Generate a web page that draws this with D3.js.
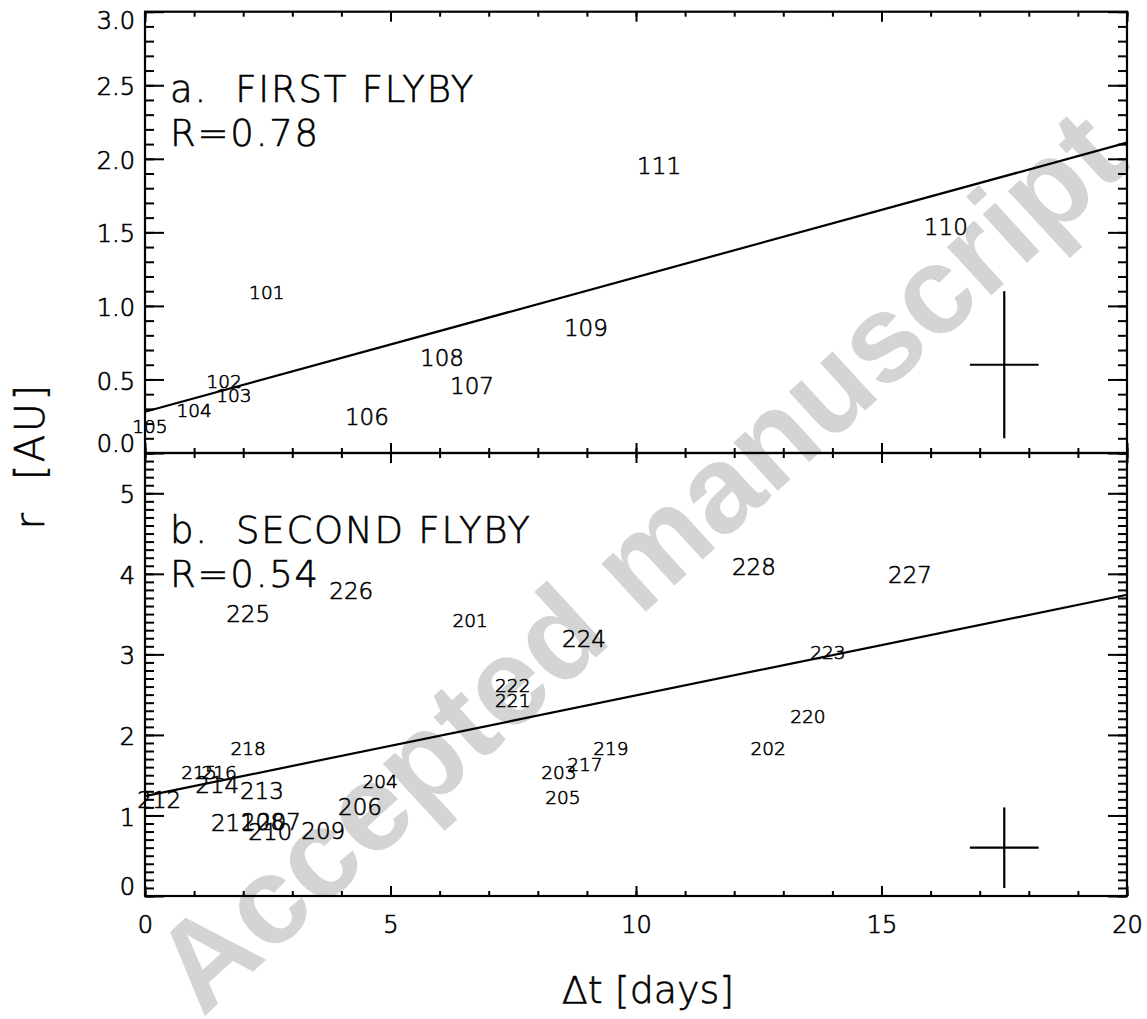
<!DOCTYPE html>
<html>
<head>
<meta charset="utf-8">
<script src="https://cdn.jsdelivr.net/npm/d3@7"></script>
<style>
  body { margin: 0; background: #fff; }
  svg { display: block; }
</style>
</head>
<body>
<svg id="chart" width="1147" height="1019"></svg>
<script>
// ---- First flyby: event number, delay (days), radial distance (AU)
const flyby1Ids = [101, 102, 103, 104, 105, 106, 107, 108, 109, 110, 111];
const flyby1Dt  = [2.48, 1.61, 1.81, 1.00, 0.10, 4.52, 6.66, 6.05, 8.98, 16.31, 10.47];
const flyby1R   = [1.09, 0.49, 0.39, 0.29, 0.18, 0.25, 0.455, 0.65, 0.85, 1.54, 1.95];

// ---- Second flyby
const flyby2Ids = [201, 202, 203, 204, 205, 206, 207, 208, 209, 210, 211, 212, 213, 214,
                   215, 216, 217, 218, 219, 220, 221, 222, 223, 224, 225, 226, 227, 228];
const flyby2Dt  = [6.62, 12.69, 8.43, 4.79, 8.51, 4.38, 2.73, 2.40, 3.63, 2.55, 1.79, 0.29, 2.38, 1.47,
                   1.10, 1.51, 8.96, 2.10, 9.49, 13.50, 7.49, 7.49, 13.91, 8.94, 2.10, 4.20, 15.58, 12.40];
const flyby2R   = [3.42, 1.83, 1.53, 1.42, 1.23, 1.11, 0.92, 0.92, 0.81, 0.80, 0.91, 1.19, 1.31, 1.38,
                   1.53, 1.53, 1.64, 1.83, 1.83, 2.23, 2.43, 2.62, 3.02, 3.20, 3.50, 3.79, 3.99, 4.09];

// ---- Linear fits (end points at Δt = 0 and 20 days) and correlation coefficients
const fit1Dt = [0, 20];
const fit1R  = [0.28, 2.11];
const fit2Dt = [0, 20];
const fit2R  = [1.24, 3.74];
const corr1 = "0.78";
const corr2 = "0.54";

// ---- Typical uncertainty cross: centre and half-widths
const errDt = 17.5, errR = 0.6, errHalfDt = 0.7, errHalfR = 0.5;

// ---- Axis ticks
const xMajorTicks = [0, 5, 10, 15, 20];
const xMinorTicks = d3.range(0, 21, 1);
const y1MajorTicks = [0, 0.5, 1.0, 1.5, 2.0, 2.5, 3.0];
const y1MinorTicks = d3.range(0, 31).map(d => d / 10);
const y2MajorTicks = [0, 1, 2, 3, 4, 5];
const y2MinorTicks = d3.range(0, 56).map(d => d / 10);

// Event numbers printed in the smaller type
const smallLabels = new Set([101, 102, 103, 104, 105,
  201, 202, 203, 204, 205, 215, 216, 217, 218, 219, 220, 221, 222, 223]);

// Thin, even-stroked lettering: extra-light face with a hairline outline
const FONT = "'DejaVu Sans', sans-serif";
const WEIGHT = 200;
function ink(sel, w) {
  sel.attr("font-family", FONT).attr("font-weight", WEIGHT)
    .attr("fill", "#000").attr("stroke", "#000").attr("stroke-width", w);
}

const svg = d3.select("#chart");

const xLeft = 145, xRight = 1127;
const x = d3.scaleLinear().domain([0, 20]).range([xLeft, xRight]);

const panels = [
  { top: 11.7, bottom: 453, domain: [0, 3], major: y1MajorTicks, minor: y1MinorTicks,
    fmt: d3.format(".1f"), ids: flyby1Ids, dt: flyby1Dt, r: flyby1R,
    fitDt: fit1Dt, fitR: fit1R, title: "a.  FIRST FLYBY", corr: corr1, xLabels: false },
  { top: 453, bottom: 896, domain: [0, 5.5], major: y2MajorTicks, minor: y2MinorTicks,
    fmt: d3.format("d"), ids: flyby2Ids, dt: flyby2Dt, r: flyby2R,
    fitDt: fit2Dt, fitR: fit2R, title: "b.  SECOND FLYBY", corr: corr2, xLabels: true }
];

// Watermark sits underneath everything else
svg.append("text")
  .attr("transform", "translate(638,560) rotate(-42.5)")
  .attr("text-anchor", "middle")
  .attr("dy", "0.35em")
  .attr("font-family", "'Liberation Sans', Arial, sans-serif")
  .attr("font-weight", "bold")
  .attr("font-size", 124)
  .attr("fill", "#d4d4d4")
  .text("Accepted manuscript");

function styleAxis(g) {
  g.select(".domain").remove();
  g.selectAll(".tick line").attr("stroke", "#000").attr("stroke-width", 2);
  g.selectAll(".tick text").call(ink, 0.7).attr("font-size", 24);
}

panels.forEach(p => {
  const y = d3.scaleLinear().domain(p.domain).range([p.bottom, p.top]);
  const g = svg.append("g");

  // Left axis: minor + labelled major ticks
  g.append("g").attr("transform", `translate(${xLeft},0)`)
    .call(d3.axisLeft(y).tickValues(p.minor).tickSize(-9).tickFormat(""))
    .call(styleAxis);
  const leftMajor = g.append("g").attr("transform", `translate(${xLeft},0)`)
    .call(d3.axisLeft(y).tickValues(p.major).tickSize(-19).tickPadding(10).tickFormat(p.fmt))
    .call(styleAxis);
  // labels at the ends of the range are nudged inside the frame
  leftMajor.selectAll(".tick text")
    .attr("dy", d => d === p.domain[0] ? "-0.05em" : d === p.domain[1] ? "0.7em" : "0.4em");

  // Right axis (ticks only)
  g.append("g").attr("transform", `translate(${xRight},0)`)
    .call(d3.axisRight(y).tickValues(p.minor).tickSize(-9).tickFormat(""))
    .call(styleAxis);
  g.append("g").attr("transform", `translate(${xRight},0)`)
    .call(d3.axisRight(y).tickValues(p.major).tickSize(-19).tickFormat(""))
    .call(styleAxis);

  // Top and bottom axes
  g.append("g").attr("transform", `translate(0,${p.top})`)
    .call(d3.axisTop(x).tickValues(xMinorTicks).tickSize(-5).tickFormat(""))
    .call(styleAxis);
  g.append("g").attr("transform", `translate(0,${p.top})`)
    .call(d3.axisTop(x).tickValues(xMajorTicks).tickSize(-10).tickFormat(""))
    .call(styleAxis);
  g.append("g").attr("transform", `translate(0,${p.bottom})`)
    .call(d3.axisBottom(x).tickValues(xMinorTicks).tickSize(-5).tickFormat(""))
    .call(styleAxis);
  g.append("g").attr("transform", `translate(0,${p.bottom})`)
    .call(d3.axisBottom(x).tickValues(xMajorTicks).tickSize(-10).tickPadding(20)
      .tickFormat(p.xLabels ? d3.format("d") : ""))
    .call(styleAxis);

  // Frame
  g.append("rect")
    .attr("x", xLeft).attr("y", p.top)
    .attr("width", xRight - xLeft).attr("height", p.bottom - p.top)
    .attr("fill", "none").attr("stroke", "#000").attr("stroke-width", 2.2);

  // Regression line
  const fitPts = p.fitDt.map((d, i) => [d, p.fitR[i]]);
  g.append("path")
    .datum(fitPts)
    .attr("d", d3.line().x(d => x(d[0])).y(d => y(d[1])))
    .attr("fill", "none").attr("stroke", "#000").attr("stroke-width", 2.2);

  // Uncertainty cross
  g.append("line")
    .attr("x1", x(errDt)).attr("x2", x(errDt))
    .attr("y1", y(errR - errHalfR)).attr("y2", y(errR + errHalfR))
    .attr("stroke", "#000").attr("stroke-width", 2.2);
  g.append("line")
    .attr("x1", x(errDt - errHalfDt)).attr("x2", x(errDt + errHalfDt))
    .attr("y1", y(errR)).attr("y2", y(errR))
    .attr("stroke", "#000").attr("stroke-width", 2.2);

  // Event numbers drawn at their (Δt, r) positions
  const events = p.ids.map((id, i) => ({ id, dt: p.dt[i], r: p.r[i] }));
  g.selectAll("text.event").data(events).enter().append("text")
    .attr("class", "event")
    .attr("x", d => x(d.dt)).attr("y", d => y(d.r))
    .attr("dy", "0.36em")
    .attr("text-anchor", "middle")
    .call(ink, 0.6)
    .attr("font-size", d => smallLabels.has(d.id) ? 18.5 : 23)
    .text(d => d.id);

  // Panel title and correlation coefficient
  g.append("text")
    .attr("x", xLeft + 25).attr("y", p.top + 90)
    .call(ink, 0.6)
    .attr("font-size", 37).attr("letter-spacing", 1.8)
    .attr("xml:space", "preserve").style("white-space", "pre")
    .text(p.title);
  g.append("text")
    .attr("x", xLeft + 25).attr("y", p.top + 134)
    .call(ink, 0.6)
    .attr("font-size", 37).attr("letter-spacing", 1.8)
    .text("R=" + p.corr);
});

// Axis titles
svg.append("text")
  .attr("transform", "translate(44,456) rotate(-90)")
  .attr("text-anchor", "middle")
  .call(ink, 0.6)
  .attr("font-size", 40).attr("letter-spacing", 2.5)
  .attr("xml:space", "preserve").style("white-space", "pre")
  .text("r  [AU]");
svg.append("text")
  .attr("x", 648).attr("y", 1003)
  .attr("text-anchor", "middle")
  .call(ink, 0.6)
  .attr("font-size", 38)
  .attr("xml:space", "preserve").style("white-space", "pre")
  .text("Δt [days]");
</script>
</body>
</html>
